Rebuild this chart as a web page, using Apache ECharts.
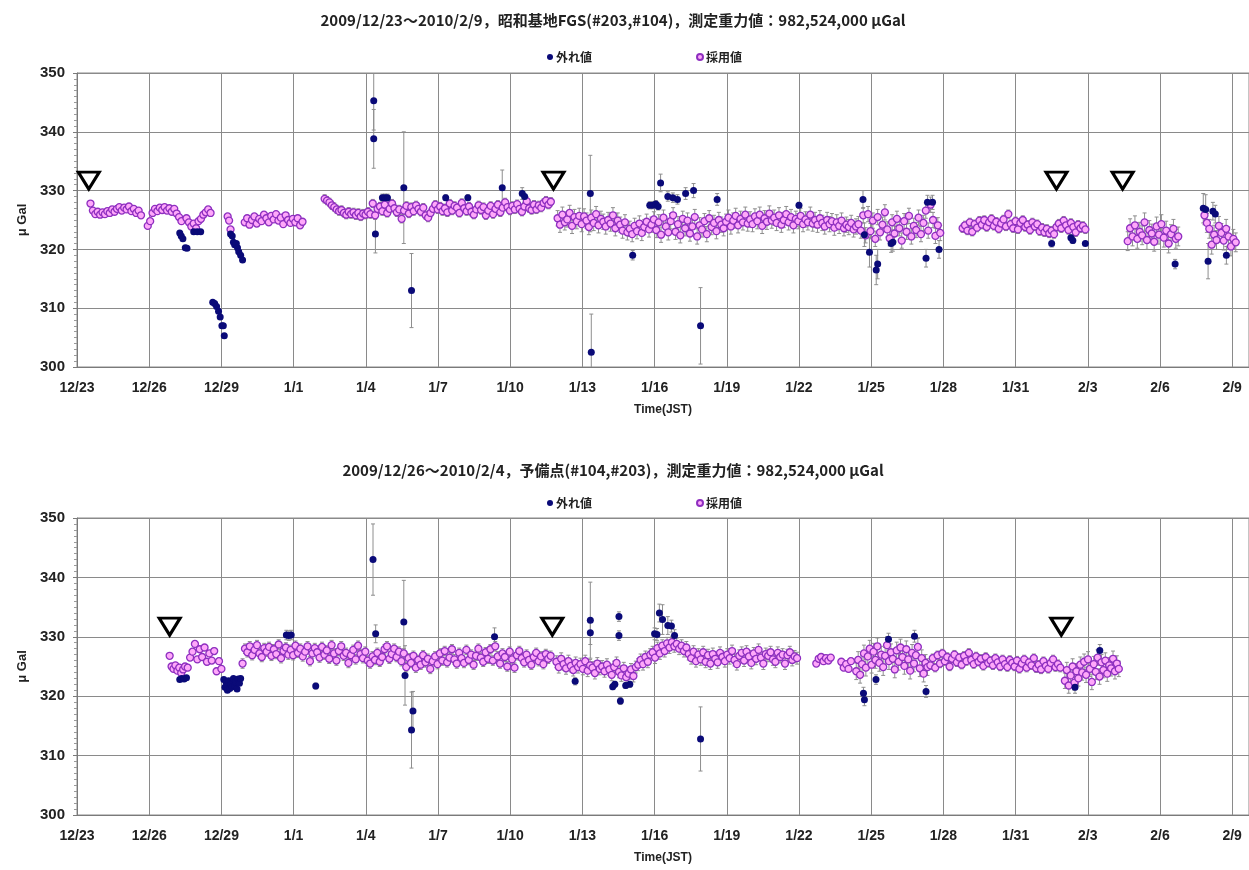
<!DOCTYPE html>
<html><head><meta charset="utf-8">
<script src="https://cdn.jsdelivr.net/npm/echarts@6/dist/echarts.min.js"></script>
<style>html,body{margin:0;padding:0;background:#fff}#c{width:1249px;height:870px}</style>
</head><body><div id="c"></div>
<script>
// ---------- tick labels (x = days since 2009/12/23 00:00 JST) ----------
const xTickLabels = ['12/23','12/26','12/29','1/1','1/4','1/7','1/10','1/13','1/16','1/19','1/22','1/25','1/28','1/31','2/3','2/6','2/9'];
const titleTop = '2009/12/23～2010/2/9，昭和基地FGS(#203,#104)，測定重力値：982,524,000 μGal';
const titleBottom = '2009/12/26～2010/2/4，予備点(#104,#203)，測定重力値：982,524,000 μGal';
const markLevel = 331.7;
const topMarks = [0.49, 19.8, 40.7, 43.45];
const bottomMarks = [3.85, 19.75, 40.9];

// ---------- top panel: accepted values (採用値), sampled runs ----------
const topA = [327.8,326.6,326.0,326.4,325.9,326.3,326.0,326.5,326.2,326.8,326.4,326.9,327.2,326.6,327.1,326.8,327.3,326.5,326.9,326.2,326.6,325.8];
const topB = [324.0,324.8,326.2,326.9,326.5,327.1,326.7,327.2,326.6,327.0,326.4,326.9,326.1,325.5,324.8];
const topC = [325.3,324.6,323.9,324.4,323.6,324.8,325.2,325.9,326.3,326.8,326.2];
const topC2 = [325.6,324.9,323.4];
const topD = [324.6,325.3,324.2,325.0,325.6,324.4,325.2,324.8,325.9,325.3,324.6,325.7,325.1,326.0,324.9,325.4,324.3,325.8,325.0,324.5,325.2,324.6,325.3,324.1,324.7];
const topE = [328.6,328.3,328.0,327.5,327.2,326.8,326.5,326.7,326.2,325.9,
326.4,326.0,326.3,325.8,326.2,325.6,326.1,325.9,326.4,326.0,
327.8,325.8,326.9,327.3,326.5,327.6,326.2,326.9,327.8,327.0,
326.3,326.8,325.2,326.6,327.4,326.1,327.2,326.5,327.5,326.9,
326.4,327.1,325.8,325.4,326.2,326.9,327.6,326.8,327.3,326.5,
327.0,326.3,327.8,326.6,327.4,327.1,326.2,327.9,327.0,326.5,
327.3,326.4,325.9,326.8,327.5,326.7,327.2,325.8,326.6,327.4,
326.0,326.9,327.6,326.3,327.1,328.0,327.2,326.6,327.4,326.8,
327.7,326.9,326.4,327.3,328.2,327.0,326.7,327.6,326.8,327.5,
327.1,327.9,328.3,327.6,328.1];
const topF = [325.3,324.2,325.9,324.6,325.1,326.2,324.0,325.5,324.8,325.7,
324.3,325.6,324.9,323.8,325.4,324.5,326.0,324.1,325.2,324.7,
323.9,325.0,324.4,325.8,323.6,324.9,324.2,323.2,324.6,322.9,
323.5,322.6,324.0,323.1,324.4,322.8,323.8,324.7,323.4,324.2,
325.1,323.3,324.6,322.5,325.4,323.9,322.9,324.8,325.8,323.0,
324.3,322.4,325.2,323.6,324.9,322.7,323.9,325.5,322.2,324.1,
323.4,324.8,322.6,325.3,323.8,324.5,323.1,325.0,324.2,323.6,
324.7,325.4,323.9,324.9,325.7,324.1,325.2,324.6,325.9,324.4,
325.1,324.3,325.6,324.8,325.9,324.0,325.3,324.7,326.1,324.9,
325.4,324.5,325.8,324.2,325.0,326.0,324.6,325.5,324.1,325.2,
324.8,325.7,324.3,325.1,324.6,325.9,324.4,325.0,324.2,325.3,
324.5,323.9,325.0,324.3,324.8,323.7,324.6,324.0,324.9,323.6,
324.2,323.8,324.5,323.4,323.9,324.3,323.2,325.8,322.4,326.0,
323.1,324.9,321.8,325.5,322.9,324.2,326.3,323.4,321.9,324.6,
322.7,325.2,323.6,321.5,324.8,323.0,325.7,322.2,324.0,323.3,
325.4,322.6,324.5,326.6,323.2,327.6,325.0,322.3,324.1,322.8];
const topG = [323.6,324.1,323.2,324.6,323.0,324.3,323.7,324.9,324.2,325.0,
323.8,324.6,325.2,324.0,324.7,323.5,324.4,325.1,323.9,326.0,
324.3,323.6,324.8,323.4,324.5,325.0,323.8,324.2,323.3,324.6,
323.9,324.3,323.1,323.7,322.9,323.5,322.7,323.2,322.6,323.8,
324.4,323.6,324.9,324.1,323.3,324.5,323.8,322.9,324.2,323.6,
324.0,323.4];
const topH = [321.4,323.6,322.2,324.1,321.8,323.0,322.4,324.6,321.6,323.3,322.7,321.3,323.9,322.5,324.3,322.0,323.2,321.0,322.6,323.5,321.8,322.2];
const topI = [325.8,324.5,323.5,320.8,322.5,321.6,324.0,322.8,321.5,323.5,322.2,320.5,321.8,321.2];
// run: [start day, sampling step (day), typical error (μGal), values]
const topRuns = [[0.56,0.1,0.3,topA],[2.94,0.1,0.3,topB],[4.55,0.1,0.3,topC],[6.26,0.06,0.3,topC2],[6.97,0.1,0.4,topD],
  [10.29,0.1,0.7,topE],[19.97,0.1,1.3,topF],[36.8,0.1,0.7,topG],[43.66,0.1,1.6,topH],[46.85,0.1,1.6,topI]];
// top panel outliers (外れ値): [day, value, error]
const topOut = [[4.27,322.8,0.3],[4.33,322.3,0.3],[4.4,321.8,0.3],[4.5,320.3,0.3],[4.57,320.2,0.3],
  [4.85,323,0.3],[5.0,323,0.3],[5.14,323,0.3],
  [5.64,311,0.3],[5.72,310.8,0.3],[5.8,310.3,0.3],[5.88,309.5,0.3],[5.95,308.5,0.3],[6.02,307,0.3],[6.08,307,0.3],[6.12,305.3,0.3],
  [6.38,322.6,0.3],[6.45,322.3,0.3],[6.5,321.2,0.3],[6.55,320.8,0.3],[6.62,321.0,0.3],[6.67,320.3,0.3],[6.72,319.6,0.3],[6.8,319.0,0.3],[6.88,318.2,0.3],
  [12.33,345.3,5],[12.33,338.8,5],[12.4,322.6,3.2],[12.69,328.8,0.6],[12.8,328.8,0.6],[12.9,328.8,0.6],[13.58,330.5,9.5],[13.9,313,6.3],
  [15.32,328.8,0.5],[16.24,328.8,0.5],[17.67,330.5,3],[18.5,329.5,1],[18.6,329,1],
  [21.33,329.5,6.5],[21.37,302.5,6.5],[23.09,319,0.8],[23.8,327.5,0.6],[23.92,327.5,0.6],[24.05,327.7,0.6],[24.15,327.3,0.6],
  [24.25,331.3,1.5],[24.55,329,0.8],[24.76,328.8,0.8],[24.95,328.5,0.8],[25.29,329.5,1],[25.62,330,1.2],[25.91,307,6.5],[26.6,328.5,1],
  [30.0,327.5,0.5],[32.66,328.5,1.5],[32.72,322.5,2],[32.93,319.5,2.5],[33.21,316.5,2.5],[33.27,317.5,2.5],[33.83,321,1.5],[33.9,321.2,1.5],
  [35.28,318.5,1.5],[35.34,328,1.2],[35.55,328,1.2],[35.82,320,1.5],
  [40.5,321,0.6],[41.3,322,0.5],[41.38,321.5,0.5],[41.9,321,0.3],[45.63,317.5,0.8],
  [46.8,327,2.5],[46.9,326.8,2.5],[47.0,318,3],[47.2,326.5,1.5],[47.3,326,1.5],[47.76,319,1.5]];

// ---------- bottom panel ----------
const botP1 = [326.8,325.0,324.6,325.2,324.3,324.8,323.9,324.5,325.0];
const botP2 = [324.8,326.5,327.5,328.8,326.2,327.9,326.6,328.2,325.8,327.2,326.0,327.6,324.2,325.9,324.6];
const botP3 = [325.5,328.0,327.4,328.4,326.9,327.8,328.6,327.2,326.6,328.1,
327.5,328.3,326.8,327.9,327.1,328.7,326.4,327.6,328.2,327.0,
327.8,326.9,328.5,327.3,328.0,326.7,327.5,328.4,325.9,327.2,
328.1,327.4,326.5,328.3,327.0,327.7,326.3,328.6,327.2,326.0,
327.6,328.4,326.8,327.3,325.6,326.9,327.8,326.2,328.5,327.1,
326.4,327.5,326.0,325.5,326.7,326.1,327.3,325.8,326.6,327.9,
328.4,326.3,327.1,328.0,326.6,327.5,325.9,327.2,324.9,326.4,
325.6,326.8,324.8,326.1,325.3,326.9,325.7,326.3,324.6,325.9,
326.7,325.4,327.2,326.0,327.6,325.7,326.5,327.9,326.2,325.5,
327.3,326.4,325.6,327.8,326.1,327.0,325.3,326.8,328.0,326.5,
325.8,327.4,326.3,327.9,326.0,328.4,326.7,325.5,327.2,326.6,
325.0,327.5,326.2,324.8,326.9,327.6,326.4,325.7,327.0,326.1,
325.3,326.6,327.3,325.9,326.7,325.4,327.1,326.3,326.8];
const botP4 = [325.8,324.9,326.3,325.4,324.7,325.9,325.1,324.4,325.6,324.9,
325.4,324.6,325.9,324.3,325.2,324.8,323.9,325.5,324.6,325.0,
324.2,325.3,324.5,323.6,324.9,325.6,324.1,323.5,324.7,323.2,
323.8,324.5,323.4,324.9,325.3,326.1,325.4,326.6,325.8,327.0,
327.4,326.5,328.1,327.2,328.5,327.6,328.9,328.2,329.1,328.4,
328.8,328.0,328.5,327.6,328.2,327.1,326.4,327.5,325.9,327.0,
326.2,327.4,325.8,326.9,325.5,327.1,326.3,325.7,327.3,326.6,
325.9,327.0,326.4,327.6,326.1,325.4,326.8,327.3,326.0,327.5,
326.7,325.6,327.2,326.3,327.8,326.5,325.5,327.1,326.8,327.4,
326.2,325.8,327.3,326.6,327.0,325.5,326.9,327.4,326.1,326.7,
326.4];
const botP5a = [325.5,326.3,326.6,325.9,326.4,326.0,326.5];
const botP5b = [325.8,324.8,325.4,324.6,325.9];
const botP5c = [324.2,326.1,323.6,325.4,327.2,324.8,326.7,328.0,325.3,327.5,
326.1,328.4,325.6,327.0,324.9,326.8,328.6,325.9,327.4,326.3,
324.5,327.7,325.8,328.2,326.6,325.1,327.9,326.2,324.3,327.3,
325.5,326.9,328.3,324.7,326.4,323.8,325.6,324.9];
const botP5d = [325.2,326.4,324.8,326.9,325.5,327.2,325.9,326.6,325.0,326.3,
327.0,325.7,326.5,325.3,326.8,325.9,327.3,326.1,325.4,326.7,
325.8,326.3,325.1,326.6,325.6,326.0,325.2,326.4,325.7,325.0,
326.2,325.4,324.9,326.1,325.6,325.0,326.0,324.6,325.5,326.2,
324.8,325.7,325.2,326.4,324.7,325.3,324.5,325.9,325.1,324.6,
325.6,326.2,324.9,325.4,324.8];
const botP5e = [322.6,324.4,321.8,323.5,325.0,322.3,324.2,323.0,325.3,324.0,
325.8,323.6,326.2,324.6,322.4,325.4,324.1,326.5,323.3,325.7,
324.4,326.0,323.8,325.2,324.7,326.3,324.2,325.5,324.6];
const bottomRuns = [[3.85,0.08,0.3,botP1],[4.6,0.1,0.5,botP2],[6.88,0.1,0.8,botP3],[19.92,0.1,1.0,botP4],
  [30.72,0.1,0.5,botP5a],[31.76,0.1,0.5,botP5b],[32.38,0.08,1.4,botP5c],[35.46,0.1,0.7,botP5d],[41.05,0.08,1.3,botP5e]];
const bottomOut = [[4.27,322.8,0.3],[4.35,323.0,0.3],[4.45,322.9,0.3],[4.55,323.1,0.3],
  [6.1,322.8,0.3],[6.15,321.5,0.3],[6.2,322.3,0.3],[6.25,321.0,0.3],[6.3,322.6,0.3],[6.35,321.3,0.3],[6.4,322.0,0.3],[6.45,321.6,0.3],
  [6.5,323.0,0.3],[6.55,321.8,0.3],[6.6,322.4,0.3],[6.65,321.2,0.3],[6.7,322.9,0.3],[6.75,322.2,0.3],[6.8,323.0,0.3],
  [8.7,330.3,0.8],[8.8,330.2,0.8],[8.9,330.3,0.8],[9.92,321.7,0.5],
  [12.3,343,6],[12.41,330.5,1.5],[13.58,332.5,7],[13.63,323.5,5],[13.9,314.3,6.4],[13.96,317.5,3.3],[17.35,330,1.5],
  [20.7,322.5,0.6],[21.33,330.7,2],[21.33,332.8,6.4],[22.26,321.6,0.5],[22.35,322.0,0.5],[22.52,333.4,0.8],[22.52,330.2,0.8],
  [22.58,319.2,0.6],[22.8,321.8,0.5],[22.97,322.0,0.5],
  [24.0,330.5,1],[24.1,330.4,1],[24.2,334,1.5],[24.33,332.9,2.5],[24.55,331.9,1.5],[24.7,331.8,1],[24.83,330.2,1],[25.91,312.8,5.4],
  [32.68,320.5,1],[32.72,319.4,1],[33.2,322.8,0.8],[33.72,329.6,1],[34.8,330.1,1],[35.28,320.8,1],[41.47,321.5,1],[42.5,327.7,1]];

// ---------- build series data ----------
function expand(runs){
  const out = [];
  runs.forEach(r => r[3].forEach((v,i) => out.push([+(r[0] + i*r[1]).toFixed(3), v, r[2]])));
  return out;
}
const topAcc = expand(topRuns), botAcc = expand(bottomRuns);

const X_MAX = 48.7, Y_MIN = 300, Y_MAX = 350;
function errRender(params, api){
  const x = api.value(0), y = api.value(1), e = api.value(2);
  if (!e) return null;
  const hi = Math.min(y + e, Y_MAX), lo = Math.max(y - e, Y_MIN);
  const a = api.coord([x, hi]), b = api.coord([x, lo]);
  const w = 2, st = {stroke:'#8e8e8e', lineWidth:1};
  const ch = [{type:'line', shape:{x1:a[0],y1:a[1],x2:b[0],y2:b[1]}, style:st}];
  if (y + e <= Y_MAX) ch.push({type:'line', shape:{x1:a[0]-w,y1:a[1],x2:a[0]+w,y2:a[1]}, style:st});
  if (y - e >= Y_MIN) ch.push({type:'line', shape:{x1:b[0]-w,y1:b[1],x2:b[0]+w,y2:b[1]}, style:st});
  return {type:'group', children: ch};
}

const gridLine = {show:true, lineStyle:{color:'#8a8a8a', width:1}};
const lblFont = {fontFamily:'Liberation Sans, Arial, sans-serif', fontWeight:'bold', fontSize:14, color:'#222'};
function xAxisDef(gi){
  return {type:'value', gridIndex:gi, min:0, max:X_MAX, interval:3,
    name:'Time(JST)', nameLocation:'middle', nameGap:37,
    nameTextStyle:{fontFamily:'Liberation Sans, Arial, sans-serif', fontWeight:'bold', fontSize:12, color:'#222'},
    axisLine:{show:true, lineStyle:{color:'#7a7a7a'}}, axisTick:{show:false},
    axisLabel:Object.assign({margin:14, showMaxLabel:false, formatter:v => {
      const k = Math.round(v/3); return Math.abs(v - 3*k) < 1e-6 && xTickLabels[k] ? xTickLabels[k] : '';
    }}, lblFont),
    splitLine:gridLine};
}
function yAxisDef(gi){
  return {type:'value', gridIndex:gi, min:Y_MIN, max:Y_MAX, interval:10,
    name:'μ Gal', nameLocation:'middle', nameGap:48, nameRotate:90,
    nameTextStyle:{fontFamily:'Liberation Sans, Arial, sans-serif', fontWeight:'bold', fontSize:13, color:'#222'},
    axisLine:{show:true, lineStyle:{color:'#7a7a7a'}},
    axisTick:{show:true, length:4, lineStyle:{color:'#7a7a7a'}},
    minorTick:{show:true, splitNumber:10, length:3, lineStyle:{color:'#9a9a9a'}},
    axisLabel:Object.assign({margin:12}, lblFont, {fontSize:15}),
    splitLine:gridLine};
}
function panelSeries(gi, acc, out, marks){
  return [
    {type:'custom', xAxisIndex:gi, yAxisIndex:gi, renderItem:errRender, data:acc.concat(out), z:1, silent:true,
      encode:{x:0,y:1}},
    {name:'外れ値', type:'scatter', xAxisIndex:gi, yAxisIndex:gi, data:out, symbol:'circle', symbolSize:7, z:3,
      itemStyle:{color:'#0a0a78', opacity:1}},
    {name:'採用値', type:'scatter', xAxisIndex:gi, yAxisIndex:gi, data:acc, symbol:'circle', symbolSize:7, z:2,
      itemStyle:{color:'#ffa8fa', borderColor:'#8e2fc0', borderWidth:1.3, opacity:1}},
    {type:'scatter', xAxisIndex:gi, yAxisIndex:gi, data:marks.map(d => [d, markLevel]), symbol:'triangle',
      symbolRotate:180, symbolSize:[21,17], z:4, silent:true,
      itemStyle:{color:'#ffffff', borderColor:'#000', borderWidth:3, opacity:1}}
  ];
}
const titleFont = {fontFamily:'Noto Sans CJK JP, sans-serif', fontWeight:'bold', fontSize:15, color:'#222'};
const legendDef = top => ({top:top, left:542, itemGap:104, itemWidth:6, itemHeight:6, icon:'circle',
  data:['外れ値','採用値'], textStyle:{fontFamily:'Noto Sans CJK JP, sans-serif', fontWeight:'bold', fontSize:12, color:'#222', padding:[0,0,0,-2]}});

const chart = echarts.init(document.getElementById('c'), null, {renderer:'canvas'});
chart.setOption({
  animation:false, backgroundColor:'#fff',
  title:[
    {text:titleTop, left:608, top:8, textAlign:'center', textStyle:titleFont},
    {text:titleBottom, left:608, top:458, textAlign:'center', textStyle:titleFont}
  ],
  legend:[legendDef(46), legendDef(492)],
  grid:[
    {left:77, top:73, width:1172, height:294, show:true, borderColor:'#8a8a8a', borderWidth:1},
    {left:77, top:518, width:1172, height:297, show:true, borderColor:'#8a8a8a', borderWidth:1}
  ],
  xAxis:[xAxisDef(0), xAxisDef(1)],
  yAxis:[yAxisDef(0), yAxisDef(1)],
  series: panelSeries(0, topAcc, topOut, topMarks).concat(panelSeries(1, botAcc, bottomOut, bottomMarks))
});
</script></body></html>
